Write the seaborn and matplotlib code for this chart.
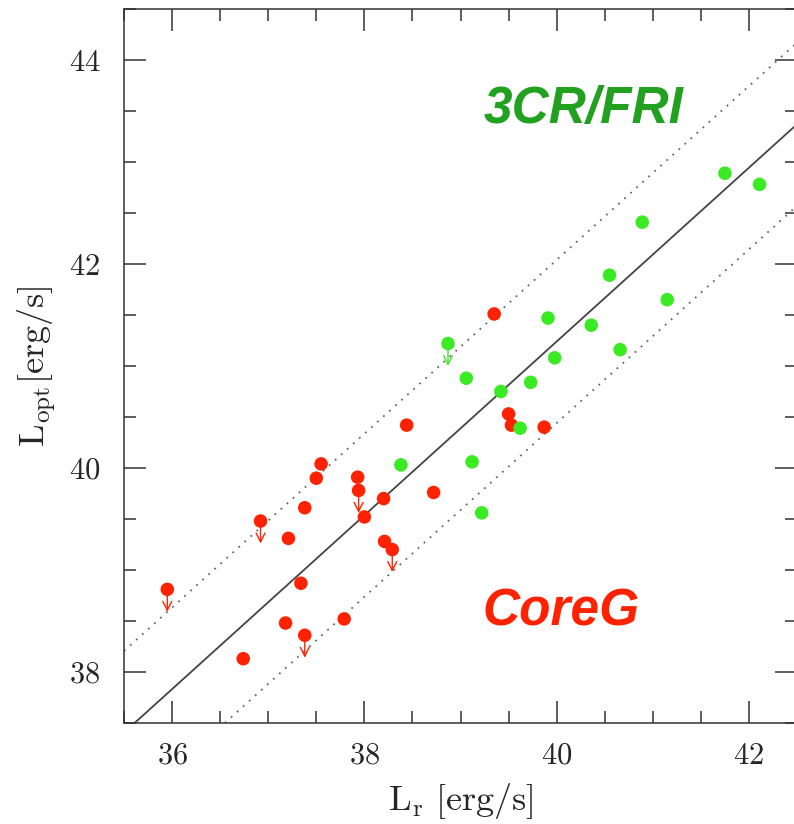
import numpy as np
import pandas as pd
import seaborn as sns
from matplotlib import pyplot as plt
from matplotlib.ticker import MultipleLocator

# CoreG sample (red)
red_x = [35.95, 36.92, 37.21, 37.38, 37.50, 37.55, 37.34, 37.18, 37.38, 36.74, 37.79, 37.93,
         37.94, 38.00, 38.20, 38.44, 38.72, 38.21, 38.29, 39.50, 39.53, 39.87, 39.35]
red_y = [38.81, 39.48, 39.31, 39.61, 39.90, 40.04, 38.87, 38.48, 38.36, 38.13, 38.52, 39.91,
         39.78, 39.52, 39.70, 40.42, 39.76, 39.28, 39.20, 40.53, 40.42, 40.40, 41.51]
red_limit = [1, 1, 0, 0, 0, 0, 0, 0, 1, 0, 0, 0, 1, 0, 0, 0, 0, 0, 1, 0, 0, 0, 0]

# 3CR/FRI sample (green)
green_x = [38.87, 39.06, 39.91, 40.36, 40.66, 39.98, 39.73, 39.42, 39.62, 38.38, 39.12, 39.22,
           41.75, 42.11, 40.89, 40.55, 41.15]
green_y = [41.22, 40.88, 41.47, 41.40, 41.16, 41.08, 40.84, 40.75, 40.39, 40.03, 40.06, 39.56,
           42.89, 42.78, 42.41, 41.89, 41.65]
green_limit = [1] + [0] * 16

# best fit and scatter band
fit_slope = 0.852
fit_intercept = 7.16
band = 0.8

RED = '#ff2200'
GREEN = '#3aea22'

df = pd.concat([
    pd.DataFrame({'Lr': red_x, 'Lopt': red_y, 'limit': red_limit, 'sample': 'CoreG'}),
    pd.DataFrame({'Lr': green_x, 'Lopt': green_y, 'limit': green_limit, 'sample': '3CR/FRI'}),
], ignore_index=True)

sns.set_style('ticks')
plt.rcParams['font.family'] = 'serif'
plt.rcParams['font.serif'] = ['cmr10', 'DejaVu Serif']
plt.rcParams['mathtext.fontset'] = 'cm'
plt.rcParams['axes.formatter.use_mathtext'] = True
plt.rcParams['axes.unicode_minus'] = False

fig = plt.figure(figsize=(7.94, 8.24), dpi=100)
ax = fig.add_axes([0.1562, 0.1226, 0.8476, 0.8665])

# fit line and dotted band
ax.axline((0, fit_intercept), slope=fit_slope, color='#444444', lw=1.3, zorder=1)
for off in (band, -band):
    ax.axline((0, fit_intercept + off), slope=fit_slope, color='#666666', lw=1.3,
              linestyle=(0, (1, 3.5)), zorder=1)

# upper limit arrows
for _, row in df[df['limit'] == 1].iterrows():
    c = RED if row['sample'] == 'CoreG' else GREEN
    ax.annotate('', xy=(row['Lr'], row['Lopt'] - 0.22), xytext=(row['Lr'], row['Lopt']),
                arrowprops=dict(arrowstyle='->', color=c, lw=1.0, mutation_scale=16,
                                shrinkA=0, shrinkB=0), zorder=2)

sns.scatterplot(data=df, x='Lr', y='Lopt', hue='sample',
                palette={'CoreG': RED, '3CR/FRI': GREEN},
                s=95, linewidth=0, legend=False, ax=ax, zorder=3)

ax.set_xlim(35.5, 42.5)
ax.set_ylim(37.5, 44.5)
ax.xaxis.set_major_locator(MultipleLocator(2))
ax.xaxis.set_minor_locator(MultipleLocator(0.5))
ax.yaxis.set_major_locator(MultipleLocator(2))
ax.yaxis.set_minor_locator(MultipleLocator(0.5))
ax.tick_params(which='both', direction='in', top=True, right=True, width=1.1, color='#333333')
ax.tick_params(which='major', length=16, labelsize=22)
ax.tick_params(axis='y', which='major', pad=17)
ax.tick_params(axis='x', which='major', pad=14)
ax.tick_params(which='minor', length=8.5)
for sp in ax.spines.values():
    sp.set_linewidth(1.1)
    sp.set_color('#333333')

ax.set_xlabel(r'$\mathrm{L_r\ [erg/s]}$', fontsize=26, labelpad=8)
ax.set_ylabel(r'$\mathrm{L_{opt}[erg/s]}$', fontsize=26, labelpad=8)

ax.text(0.683, 0.840, '3CR/FRI', transform=ax.transAxes, color='#22a020',
        fontsize=37, fontweight='bold', fontstyle='italic', family='Liberation Sans',
        ha='center', va='baseline')
ax.text(0.649, 0.137, 'CoreG', transform=ax.transAxes, color=RED,
        fontsize=37, fontweight='bold', fontstyle='italic', family='Liberation Sans',
        ha='center', va='baseline')

fig.savefig('out.png', dpi=100)
